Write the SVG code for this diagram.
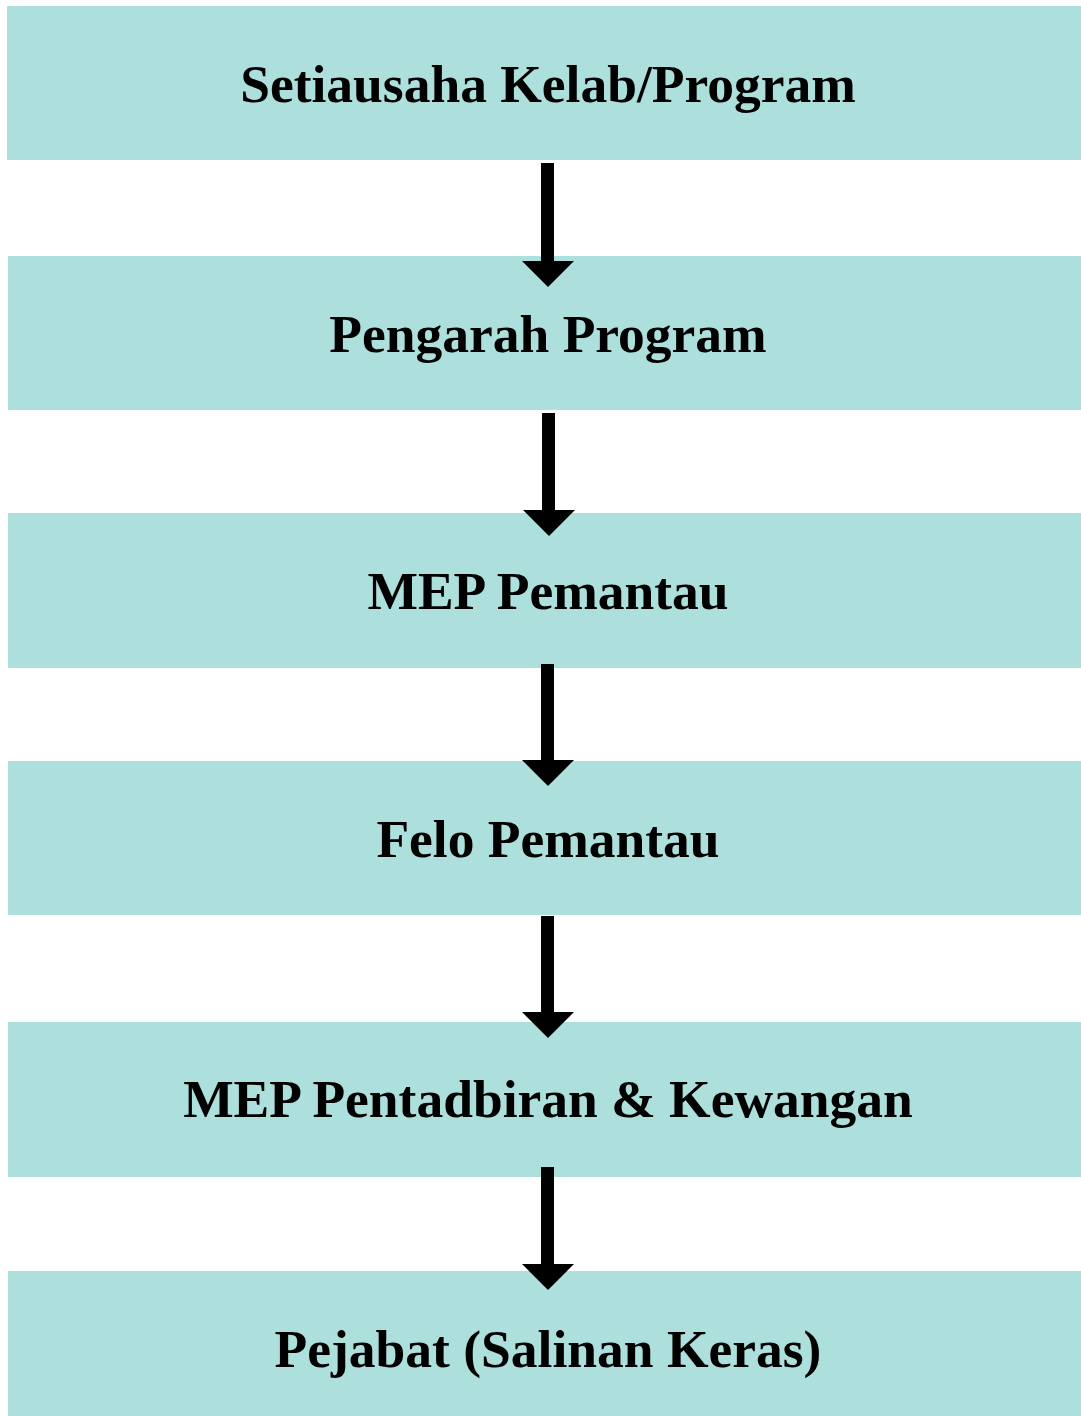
<svg xmlns="http://www.w3.org/2000/svg" width="1081" height="1416" viewBox="0 0 1081 1416">
<style>
.box{fill:#ade0dc;}
.lbl{font-family:"Liberation Serif","Times New Roman",serif;font-weight:bold;font-size:53.5px;fill:#000;text-anchor:middle;}
.arr{fill:#000;}
</style>
<rect width="1081" height="1416" fill="#ffffff"/>
<g id="node1"><rect class="box" x="7" y="6" width="1074" height="154"/><text class="lbl" x="548" y="102">Setiausaha Kelab/Program</text></g>
<g id="node2"><rect class="box" x="8" y="256" width="1073" height="154"/><text class="lbl" x="548" y="352">Pengarah Program</text></g>
<g id="node3"><rect class="box" x="8" y="513" width="1073" height="155"/><text class="lbl" x="548" y="609">MEP Pemantau</text></g>
<g id="node4"><rect class="box" x="8" y="761" width="1073" height="154"/><text class="lbl" x="548" y="857">Felo Pemantau</text></g>
<g id="node5"><rect class="box" x="8" y="1022" width="1073" height="155"/><text class="lbl" x="548" y="1117">MEP Pentadbiran &amp; Kewangan</text></g>
<g id="node6"><rect class="box" x="8" y="1271" width="1073" height="145"/><text class="lbl" x="548" y="1367">Pejabat (Salinan Keras)</text></g>
<g id="connectors">
<path class="arr" d="M541,163 H554 V261 H574 L548,287 L522,261 H541 Z"/>
<path class="arr" d="M542,413 H555 V510 H575 L549,536 L523,510 H542 Z"/>
<path class="arr" d="M541,664 H554 V760 H574 L548,786 L522,760 H541 Z"/>
<path class="arr" d="M541,916 H554 V1012 H574 L548,1038 L522,1012 H541 Z"/>
<path class="arr" d="M541,1167 H554 V1264 H574 L548,1290 L522,1264 H541 Z"/>
</g>
</svg>
